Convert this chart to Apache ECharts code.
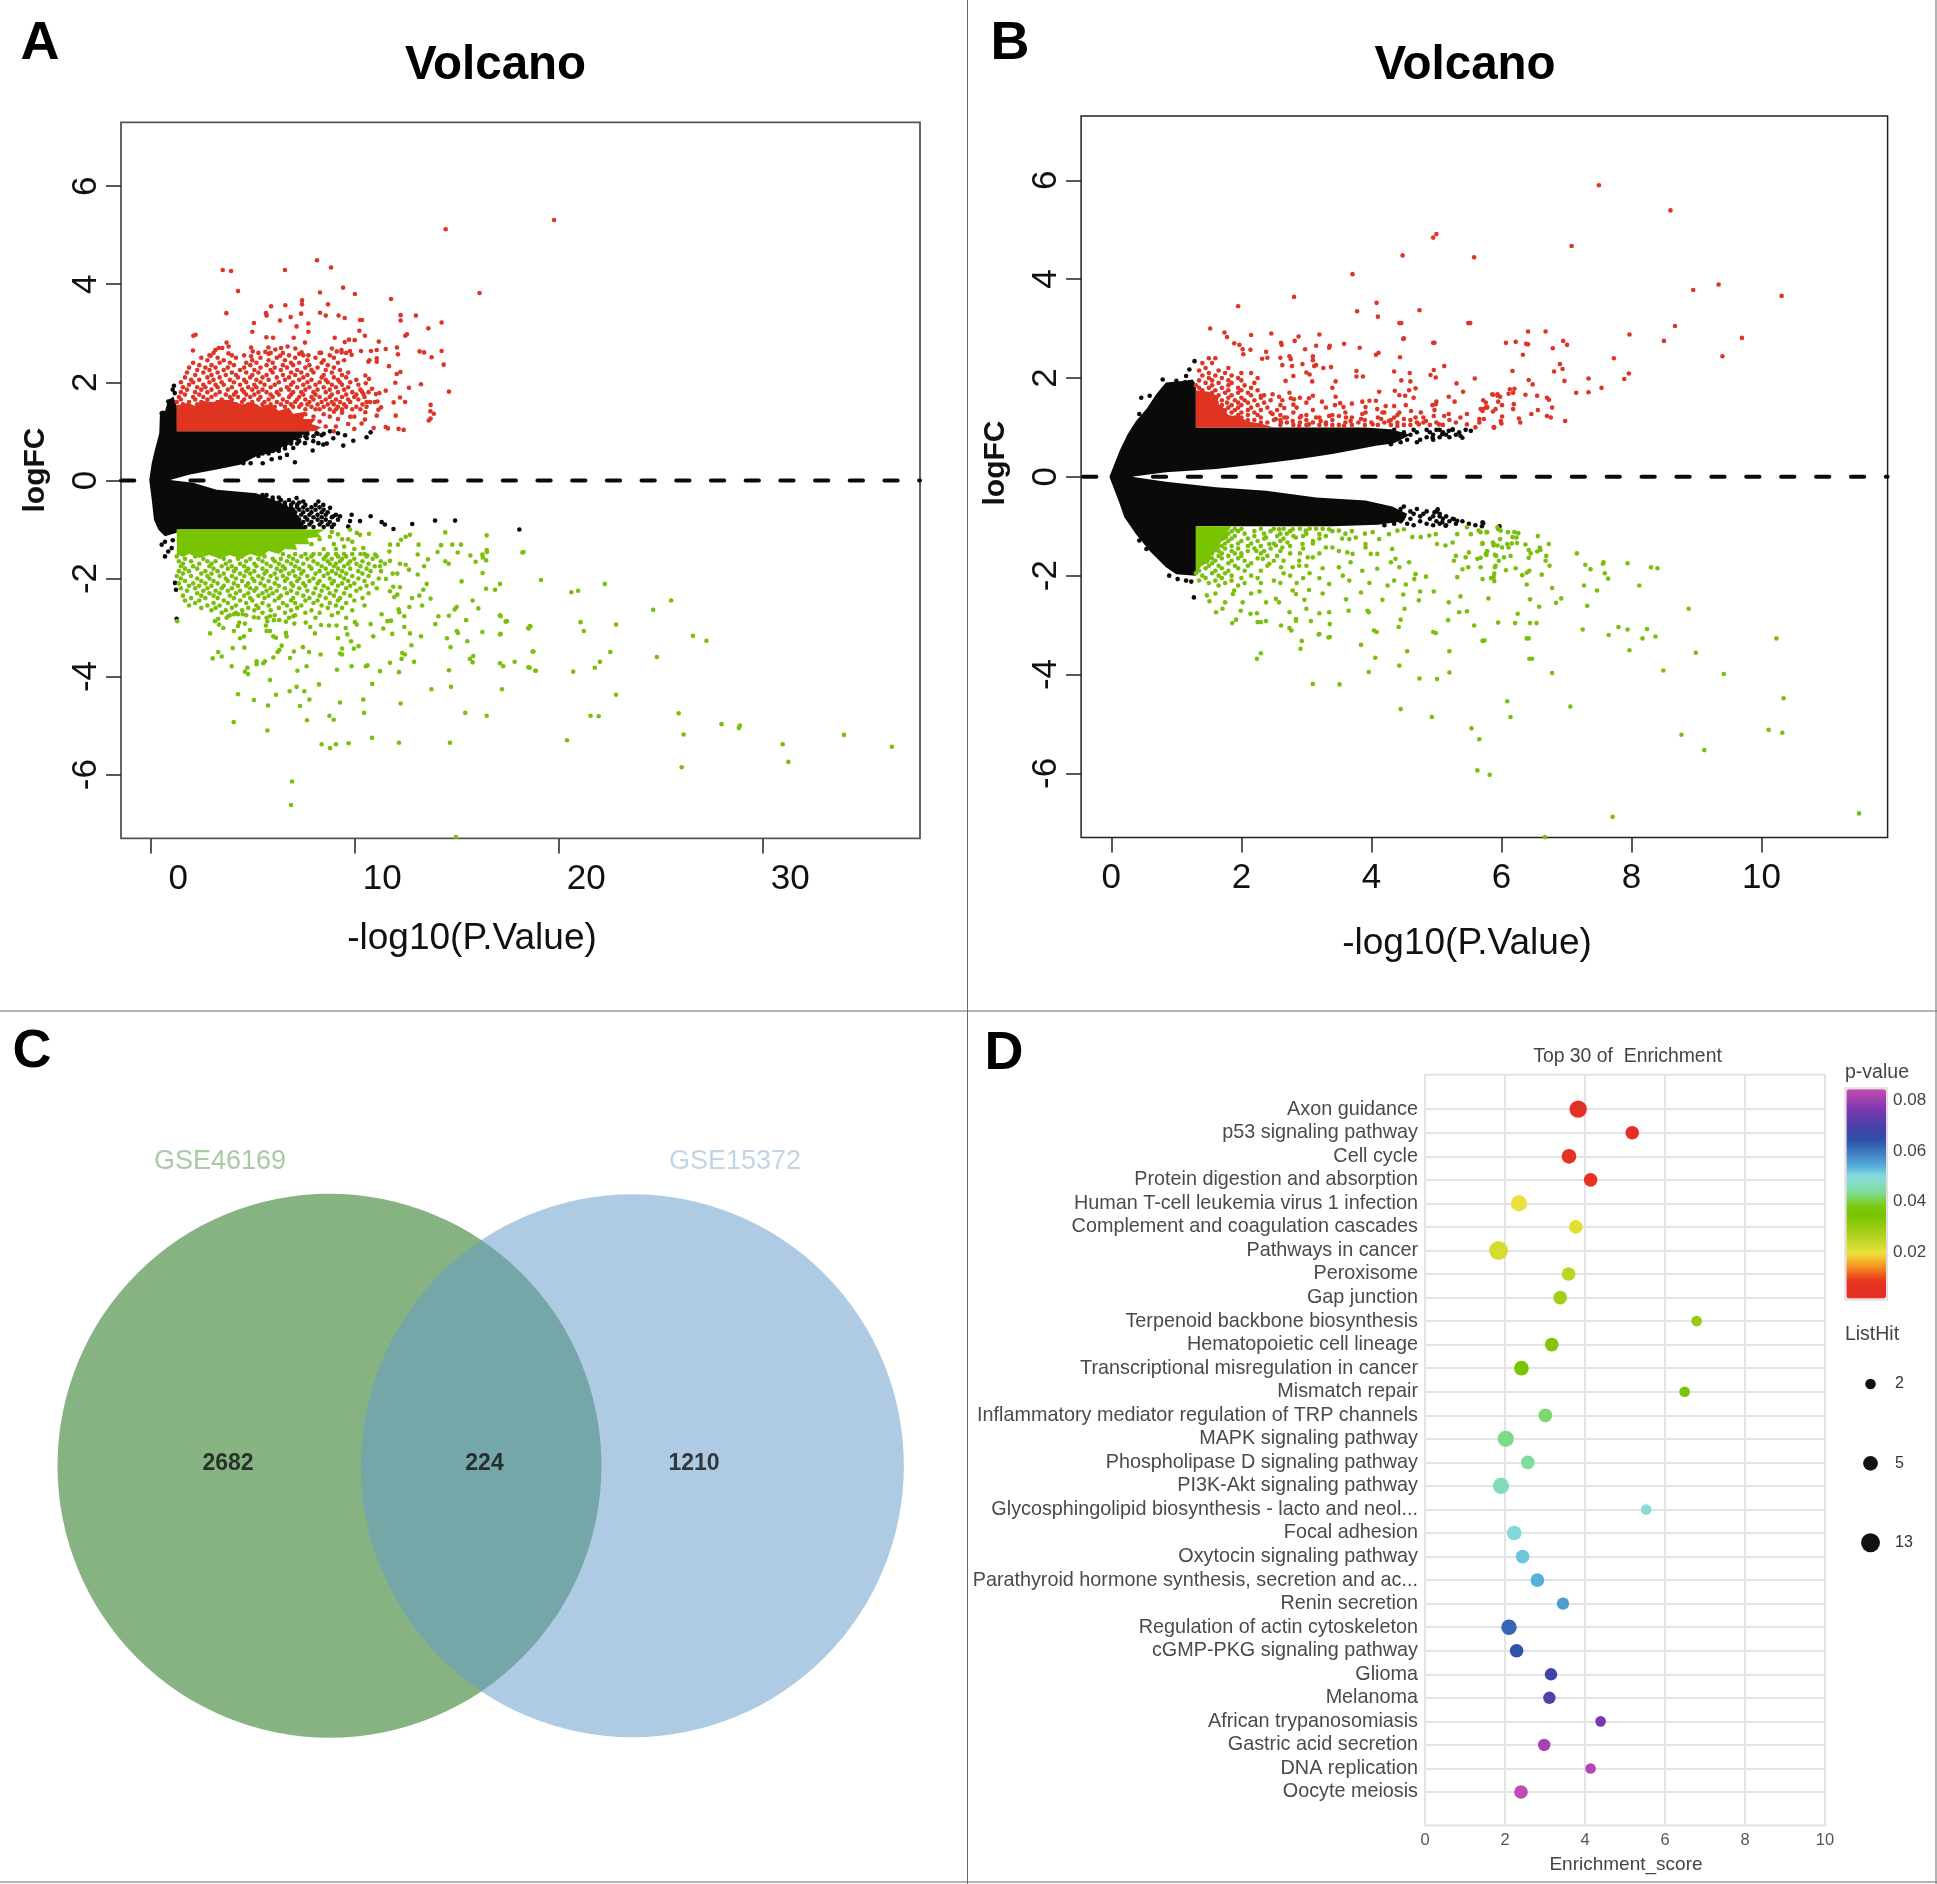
<!DOCTYPE html>
<html><head><meta charset="utf-8">
<script src="https://cdn.jsdelivr.net/npm/echarts@6/dist/echarts.min.js"></script>
<style>html,body{margin:0;padding:0;background:#fff}#c{width:1937px;height:1884px}</style>
</head><body><div id="c"></div>
<script>
// ---------- Panel A values (-log10 P, logFC) ----------
const aBlackHull=[[.97,.01],[1.95,.12],[3.25,.22],[4.4,.32],[5.2,.49],[6.2,.59],[6.77,.79],[7.67,.96],[7.83,1],[1.3,1],[1.3,1.51],[1.13,1.71],[.88,1.64],[.72,1.41],[.47,1.34],[.44,.96],[.23,.63],[.07,.35],[-.05,.01],[.07,-.39],[.18,-.8],[.39,-1],[.72,-1.14],[1.3,-1.07],[1.3,-1],[7.6,-1],[7.2,-.7],[6.68,-.5],[5.2,-.26],[3.25,-.19],[2.1,-.05]];
const aRedDense=[[1.3,1],[8,1],[8.4,1.08],[7.9,1.15],[8.1,1.25],[7.5,1.25],[7.6,1.4],[7,1.36],[6.8,1.48],[6.3,1.42],[5.9,1.55],[5.4,1.5],[5,1.6],[4.5,1.55],[4,1.62],[3.5,1.66],[3.1,1.6],[2.6,1.62],[2.2,1.52],[1.8,1.58],[1.3,1.52]];
const aGreenDense=[[1.3,-1],[8.6,-1],[8.2,-1.08],[8.4,-1.15],[7.7,-1.18],[7.8,-1.3],[7.1,-1.3],[7.2,-1.42],[6.6,-1.4],[6.3,-1.5],[5.8,-1.44],[5.4,-1.56],[4.9,-1.5],[4.4,-1.6],[3.9,-1.52],[3.4,-1.6],[2.9,-1.52],[2.4,-1.58],[1.9,-1.5],[1.6,-1.56],[1.3,-1.5]];
const aBlack=[[1.16,1.93],[1.1,1.85],[1.2,1.78],[.88,1.61],[.56,1.37],[.62,1.38],[1.03,1.5],[.95,1.58],[7.09,.37],[5.51,.35],[4.92,.35],[4.56,.35],[6.36,.46],[5.95,.43],[6.7,.52],[7.01,.66],[7.96,.61],[7.58,.76],[7.99,.8],[8.24,.76],[8.48,.73],[8.65,.75],[9.46,.71],[9.95,.81],[8.97,.86],[9.55,.92],[10.6,.88],[10.8,.98],[8.81,1],[8.15,.96],[7.67,.86],[7.34,.9],[7.01,.86],[6.7,.76],[6.93,.93],[8.4,.92],[9.2,.96],
[7.17,-.36],[7.5,-.43],[8.24,-.43],[8.48,-.5],[8.81,-.56],[8.97,-.73],[9.3,-.73],[9.87,-.7],[9.79,-.83],[10.28,-.83],[10.8,-.73],[11.34,-.85],[11.5,-.9],[11.92,-.99],[12.84,-.89],[13.96,-.82],[14.94,-.82],[9.7,-.94],[18.09,-1],
[.72,-1.55],[.56,-1.31],[1.05,-1.38],[.88,-1.45],[1.21,-2.09],[1.26,-2.23],[1.29,-2.82],[1.1,-1.22],[.72,-1.25]];
const aBlackRows=[[-.3,[5.5,5.7]],[-.35,[5.6,6,6.3]],[-.4,[6,6.4,6.8]],[-.45,[6.3,6.6,7,7.3]],[-.5,[6.6,6.9,7.2,7.6,8.1]],[-.55,[6.9,7.2,7.5,7.9,8.3]],[-.6,[7,7.3,7.7,8.1,8.5]],[-.65,[7.1,7.5,7.9,8.4,8.7]],[-.7,[7,7.4,7.8,8.2,8.6,9.1]],[-.75,[7.2,7.6,8,8.4,8.9]],[-.8,[6.9,7.3,7.7,8.2,8.6,9.2]],[-.85,[7.1,7.5,7.9,8.4,8.8]],[-.9,[7,7.4,7.8,8.3,8.7,9]],[-.95,[7.2,7.6,8,8.5,8.9]],
[.5,[5.3]],[.55,[5.5,5.8]],[.6,[6,6.3]],[.65,[6.3,6.6]],[.7,[6.6]],[.75,[6.9,7.2]],[.8,[6.9,7.3]],[.85,[7.2]],[.9,[7,7.6,8]],[.95,[7.3,7.7,8.2,8.5]]];
const aRed=[[19.79,5.31],[14.48,5.12],[16.14,3.82],[8.17,4.49],[8.86,4.34],[6.6,4.29],[3.55,4.29],[3.96,4.27],[4.3,3.86],[3.73,3.41],[9.45,3.93],[10.03,3.8],[11.8,3.7],[8.32,3.83],[8.71,3.59],[7.44,3.67],[7.44,3.59],[6.62,3.57],[5.92,3.55],[5.67,3.41],[5.7,3.36],[6.36,3.26],[6.88,3.33],[7.39,3.4],[8.32,3.42],[8.6,3.36],[9.23,3.36],[9.53,3.31],[10.28,3.27],[10.38,3.27],[12.27,3.37],[12.27,3.26],[13.02,3.36],[14.28,3.22],[13.63,3.1],[5.08,3.21],[5,3.03],[7.17,3.14],[7.75,3.2],[7.75,3.03],[10.25,3.05],[10.52,2.95],[12.58,2.98],[12.5,2.95],[2.11,2.95],[2.22,2.97],[5.69,2.92],[6.02,2.91],[7.03,2.91],[7.58,2.81],[9.04,2.91],[9.53,2.82],[9.74,2.87],[10.02,2.86],[11.2,2.83],[2.09,2.65],[3.74,2.81],[3.84,2.73],[3.19,2.66],[3.35,2.7],[3.53,2.7],[4.94,2.71],[5.79,2.71],[6.13,2.67],[6.41,2.7],[6.73,2.73],[3.83,2.59],[2.96,2.54],[5.02,2.63],[4.94,2.53],[5.64,2.62],[5.8,2.58],[6.36,2.54],[7.11,2.69],[7.3,2.58],[7.42,2.61],[7.75,2.55],[8.37,2.6],[8.9,2.69],[9.14,2.63],[9.37,2.66],[9.38,2.61],[9.79,2.64],[9.87,2.56],[10.33,2.64],[10.82,2.64],[11.1,2.66],[11.54,2.68],[12.09,2.71],[12.14,2.57],[13.2,2.63],[13.42,2.61],[13.79,2.51],[14.28,2.64],[14.38,2.36],[14.64,1.81],[13.27,1.96],[12.68,1.89],[12.01,1.99],[12.26,2.21],[12.08,2.17],[11.7,2.33],[11.1,2.42],[11.1,2.49],[10.69,2.42],[10.74,2.45],[11.54,1.83],[11.23,1.78],[11.06,1.76],[10.87,1.87],[10.54,2.14],[10.72,2.07],[10.56,1.98],[12.24,1.69],[12.49,1.6],[11.93,1.59],[11.13,1.61],[10.77,1.6],[11.31,1.49],[11.18,1.44],[12.03,1.32],[11.1,1.32],[13.74,1.54],[13.73,1.41],[13.9,1.36],[13.74,1.26],[13.65,1.22],[12.42,1.03],[12.17,1.05],[11.65,1.06],[11.54,1.09],[10.95,1.07],[10.52,1.24],[10.36,1.16],[10.54,1.39],[10.38,1.81],[10.45,1.76],[9.8,1.3],[9.2,1.25],[8.8,1.3],[8.3,1.2],[8.6,1.1],[9.1,1.1],[9.7,1.15],[10,1.05],[9,1],[8.1,1.05],[7.7,1.15],[8,1.3],[7.6,1.35],[9.4,1.38],[8.5,1.35],[9,1.4],[10,1.3]];
const aRedRows=[[1.45,[7.6,8.1,8.3,8.8,9.1,9.4,9.9,10.3]],[1.5,[1.4,2,2.7,3.1,3.9,4.4,5.2,5.7,6.1,6.6,7,7.3,7.9,8.5,9.2,9.6,10.1,10.6]],[1.55,[1.6,2.3,2.9,3.6,4.2,4.8,5.5,5.9,6.4,6.9,7.4,7.7,8.2,8.7,9,9.5,10.4]],[1.6,[1.3,1.9,2.5,3.3,3.8,4.5,5,5.6,6.2,6.7,7.1,7.8,8.4,8.9,9.3,9.8,10.6,11]],[1.65,[1.5,2.2,2.8,3.5,4,4.6,5.3,5.8,6.5,7.2,7.6,8,8.6,9.1,9.7,10.2]],[1.7,[1.4,2.1,2.6,3,3.9,4.3,4.9,5.4,6,6.8,7.3,7.9,8.3,8.8,9.4,10,10.5]],[1.75,[1.7,2.4,3.2,3.7,4.1,4.7,5.1,5.9,6.3,6.9,7.5,8.1,8.9,9.6,10.1]],[1.8,[1.5,2.2,2.8,3.4,4.2,4.6,5.3,5.7,6.2,7,7.4,8,8.6,9.2,9.9,10.7]],[1.85,[1.8,2.5,3,3.8,4.5,5,5.5,6.4,6.8,7.6,8.2,8.8,9.5,10.3]],[1.9,[1.6,2.3,2.7,3.3,4,4.8,5.2,5.9,6.7,7.2,7.8,8.5,9.1,9.7]],[1.95,[1.9,2.6,3.2,3.6,4.4,5.1,5.6,6.1,6.9,7.5,8.1,8.9,9.4,10.2]],[2,[1.5,2.1,2.9,3.5,4.1,4.7,5.4,6.3,7,7.7,8.3,8.7,9.3,9.8]],[2.05,[2,2.4,3.1,3.9,4.6,5.2,5.8,6.6,7.3,7.9,8.6,9.2,10.1]],[2.1,[1.7,2.8,3.4,4.3,4.9,5.5,6.2,6.8,7.5,8.4,9,9.6]],[2.15,[2.2,3,3.7,4.2,5,5.7,6.5,7.1,7.7,8.5,9.4]],[2.2,[1.8,2.6,3.3,4,4.7,5.3,6,6.9,7.4,8,8.9,9.7]],[2.25,[2.3,2.9,3.6,4.4,5.1,5.9,6.4,7.2,7.9,8.6,9.3]],[2.3,[1.9,2.7,3.2,3.8,4.6,5.4,6.1,6.7,7.6,8.2,9]],[2.35,[2.4,3,4.1,4.9,5.7,6.5,7,7.8,8.7]],[2.4,[2.1,3.4,3.9,4.7,5.2,6,6.9,7.3,8.4,9.2]],[2.45,[2.8,3.6,5,5.8,6.6,7.7,8.5,9.5]],[2.5,[2.5,3.3,4.2,5.4,6.2,7.1,8.1,9]],[2.55,[2.9,4,4.6,6.8,7.5,8.8]],[2.6,[3.1,5.3,5.9,6.5,8.3,9.6]]];
const aGreen=[[6.95,-6.14],[6.9,-6.62],[14.98,-7.27],[8.4,-5.38],[8.81,-5.46],[9.1,-5.38],[9.72,-5.36],[10.87,-5.25],[12.19,-5.35],[14.69,-5.35],[4.09,-4.93],[5.74,-5.1],[7.68,-4.89],[8.78,-4.8],[8.99,-4.88],[10.48,-4.74],[12.27,-4.55],[15.44,-4.74],[16.49,-4.8],[4.3,-4.36],[5.08,-4.48],[5.77,-4.59],[6.16,-4.37],[6.83,-4.3],[7.17,-4.21],[7.55,-4.3],[7.34,-4.6],[7.8,-4.47],[8.27,-4.16],[9.3,-4.53],[10.44,-4.47],[10.88,-4.15],[13.78,-4.26],[14.74,-4.21],[17.24,-4.26],[5.87,-4.07],[7.21,-3.88],[7.66,-3.79],[9.15,-3.86],[9.87,-3.79],[10.57,-3.79],[10.65,-3.77],[11.26,-3.89],[11.75,-3.72],[12.19,-3.91],[12.93,-3.7],[14.64,-3.87],[17.14,-3.73],[17.3,-3.79],[17.86,-3.7],[18.53,-3.81],[18.87,-3.88],[18.74,-3.49],[3.06,-3.63],[3.5,-3.59],[3.33,-3.5],[3.99,-3.79],[4.76,-3.82],[4.64,-3.9],[4.79,-3.95],[5.21,-3.69],[5.21,-3.75],[5.54,-3.73],[5.62,-3.69],[6.03,-3.61],[6.24,-3.5],[6.33,-3.46],[6.44,-3.37],[6.85,-3.62],[7.04,-3.49],[7.48,-3.4],[7.78,-3.5],[8.35,-3.55],[9.3,-3.53],[9.4,-3.55],[9.4,-3.43],[9.98,-3.43],[10.21,-3.38],[12.35,-3.52],[12.48,-3.55],[12.32,-3.64],[12.8,-3.36],[14.72,-3.4],[15.54,-3.28],[15.67,-3.64],[15.83,-3.58],[15.8,-3.71],[2.93,-3.12],[4.04,-3.42],[4.61,-3.41],[4.4,-3.22],[4.59,-3.18],[4.1,-3.07],[4.3,-2.97],[4.36,-2.9],[4.64,-2.92],[4.89,-3.05],[3.58,-3.01],[3.37,-2.94],[3.17,-2.87],[3.33,-2.82],[3.74,-2.8],[3.82,-2.77],[4.1,-2.73],[4.3,-2.73],[4.53,-2.73],[5.08,-2.79],[5.7,-3.07],[5.87,-3.07],[5.67,-2.96],[5.74,-2.87],[5.87,-2.77],[6.03,-3.18],[6.16,-3.21],[6.65,-3.11],[6.68,-3.18],[6.06,-2.85],[6.32,-2.85],[6.65,-2.88],[7.06,-2.92],[7.01,-2.77],[7.62,-2.9],[7.84,-2.99],[8.07,-3.12],[8.37,-2.95],[8.76,-2.96],[9.13,-2.96],[9.58,-3.01],[9.66,-3.14],[9.2,-3.22],[9.84,-3.28],[10.03,-2.89],[10.12,-2.94],[10.8,-2.93],[10.93,-3.18],[11.42,-3.02],[11.86,-3.13],[12.45,-2.99],[12.73,-3.12],[13.27,-3.18],[13.97,-2.93],[14.12,-2.77],[14.64,-2.76],[14.54,-3.22],[15.02,-3.07],[15.08,-3.11],[15.48,-2.85],[16.28,-3.09],[17.14,-2.75],[17.42,-2.88],[17.14,-3.14],[18.53,-3.01],[18.61,-2.97],[16.08,-2.61],[15.8,-2.45],[14.92,-2.63],[15.02,-2.58],[13.74,-2.41],[13.32,-2.55],[12.7,-2.58],[12.83,-2.4],[12.45,-2.77],[12.17,-2.63],[12.21,-2.69],[11.8,-2.86],[11.62,-2.87],[11.34,-2.73],[14.46,-1.06],[16.49,-1.12],[18.24,-1.47],[19.15,-2.03],[17.14,-2.11],[16.9,-2.23],[16.46,-2.21],[15.26,-2.06],[16.29,-1.89],[16.46,-1.63],[16.28,-1.51],[16.49,-1.42],[15.95,-1.66],[15.69,-1.53],[15.23,-1.31],[14.8,-1.31],[14.25,-1.32],[15.07,-1.47],[14.08,-1.46],[14.46,-1.65],[14.63,-1.7],[13.11,-1.51],[13.15,-1.31],[13.61,-1.61],[13.42,-1.75],[13.11,-1.92],[13.55,-2.11],[13.38,-2.23],[13.19,-2.35],[12.73,-1.11],[12.52,-1.15],[12.29,-1.21],[12.14,-1.31],[11.75,-1.31],[11.72,-1.45],[12.24,-1.7],[12.52,-1.72],[12.68,-1.82],[12.11,-1.9],[11.88,-1.9],[11.55,-2.01],[12.24,-2.18],[11.91,-2.17],[11.75,-2.26],[12.11,-2.33],[11.96,-2.38],[11.75,-1.64],[11.5,-1.7],[11.26,-1.75],[11.31,-1.85],[11.02,-1.51],[10.64,-1.53],[10.44,-1.38],[10.72,-1.09],[10.28,-1.11],[10.12,-1.07],[9.79,-1],
[20.64,-2.28],[20.97,-2.25],[22.28,-2.11],[24.65,-2.64],[25.53,-2.45],[26.6,-3.17],[27.26,-3.27],[22.83,-2.94],[21.09,-2.89],[21.25,-3.07],[18.63,-2.98],[18.54,-3.02],[24.83,-3.6],[22.55,-3.5],[22.04,-3.7],[21.79,-3.82],[20.73,-3.9],[18.78,-3.49],[18.9,-3.88],[18.6,-3.82],[22.83,-4.37],[21.58,-4.8],[21.98,-4.81],[20.43,-5.3],[25.9,-4.75],[26.14,-5.18],[26.05,-5.85],[28,-4.97],[28.85,-5.05],[28.9,-5],[31,-5.38],[31.28,-5.74],[34,-5.19],[36.35,-5.43],[18.3,-1.46],[17.48,-2.87],[17.17,-3.13],[17.17,-2.77],[16.5,-1.46],[16.3,-1.57],[1.32,-2.87],
[10.5,-1.5],[10,-1.4],[9.5,-1.35],[9,-1.3],[8.8,-1.15],[9.2,-1.1],[9.7,-1.2],[8.5,-1.4],[7.9,-1.3],[8.3,-1.2],[8.9,-1.05],[9.4,-1.2],[9.1,-1.4],[9.9,-1.25]];
const aGreenRows=[[-1.5,[6.5,7.1,7.6,8,8.3,8.7,9.1,9.5,9.9,10.3]],[-1.55,[1.3,2.2,3.4,4.5,5.6,6.8,7.4,7.9,8.6,9.2,9.6,10.6,11.1]],[-1.6,[1.7,2.6,3.6,4.3,4.9,5.3,6,6.4,7,7.7,8.5,8.9,9.4,10,10.9]],[-1.65,[1.4,2,2.8,3.2,3.9,4.7,5.5,6.1,6.7,7.2,8,8.7,9.3,9.8,10.4,11.3]],[-1.7,[1.6,2.4,3,3.7,4.4,5.1,5.7,6.3,6.9,7.5,8.2,8.8,9.1,9.7,10.1,10.7]],[-1.75,[1.5,2.1,2.9,3.5,4,4.6,5.2,5.9,6.5,7.1,7.8,8.4,9,9.5,10.3,11]],[-1.8,[1.7,2.3,3.1,3.8,4.2,4.8,5.5,6.2,6.6,7.3,7.9,8.6,9.2,9.8,10.6]],[-1.85,[1.4,1.9,2.7,3.3,4.1,4.7,5.1,5.7,6.4,7,7.5,8.3,8.9,9.4,10.2,10.8]],[-1.9,[1.6,2.5,3,3.6,4.4,4.9,5.6,6.1,6.8,7.4,8.1,8.7,9.1,9.6,10.4]],[-1.95,[1.3,2,2.8,3.4,4,4.6,5.3,5.9,6.5,7.1,7.7,8.5,9.3,9.9,10.7]],[-2,[1.5,2.3,2.9,3.7,4.2,5,5.5,6.2,6.7,7.3,8,8.8,9.5,10.2,11.2]],[-2.05,[1.7,2.5,3.1,3.8,4.5,5.1,5.8,6.6,7.2,7.8,8.3,9,9.7,10.5]],[-2.1,[1.4,2.1,2.7,3.3,4.1,4.8,5.4,6.1,6.9,7.5,8.2,8.9,9.4,10,10.9]],[-2.15,[1.9,2.4,3,3.6,4.3,4.7,5.6,6.3,7,7.6,8.5,9.2,9.8,10.6]],[-2.2,[1.5,2.2,2.8,3.5,4,4.9,5.2,5.9,6.6,7.3,8.1,8.7,9.6,10.3,11.1]],[-2.25,[1.8,2.6,3.2,3.8,4.4,5.1,5.7,6.2,6.9,7.7,8.4,9.1,10.1]],[-2.3,[2.3,2.9,3.4,4.2,4.8,5.5,6,6.7,7.2,8,8.8,9.5,10.7]],[-2.35,[1.6,2.5,3.1,3.9,4.6,5.3,5.8,6.4,7.5,8.3,9,9.8]],[-2.4,[2,2.7,3.3,4.1,4.9,5.6,6.3,7,7.8,8.6,9.3,10.4]],[-2.45,[1.7,2.4,3.6,4.4,5,6.1,6.9,7.6,8.2,9.2,10]],[-2.5,[2.2,3.1,3.8,4.7,5.5,6.5,7.1,8,8.8,9.6]],[-2.55,[1.9,2.8,3.4,4.2,5.2,5.8,6.7,7.4,8.4,9.1,10.5]],[-2.6,[2.5,3.2,4,4.8,5.3,6.3,7.2,8.7,9.4]],[-2.65,[3,3.7,4.5,5.1,5.9,6.9,7.9,9.9]],[-2.7,[3.5,4.2,5.5,6.6,7.6,8.3,9.2]],[-2.75,[3.9,4.7,6.1,7.1,8.9]],[-2.8,[5.3,5.7,6.8,8.1,9.6]]];
// ---------- Panel B values ----------
const bBlackHull=[[.31,0],[.84,.09],[1.61,.16],[2.28,.26],[2.89,.36],[3.4,.46],[3.81,.56],[4.07,.63],[4.35,.68],[4.6,.85],[4.3,.96],[3.9,1],[1.3,1],[1.3,1.87],[1.25,1.97],[1.1,1.94],[.84,1.91],[.69,1.67],[.54,1.37],[.38,1.13],[.25,.86],[.13,.53],[-.03,0],[.13,-.55],[.2,-.82],[.38,-1.16],[.59,-1.5],[.84,-1.83],[1,-1.97],[1.3,-2],[1.3,-1],[3.4,-1],[4.1,-.97],[4.5,-.9],[4.55,-.75],[4.32,-.6],[3.91,-.48],[3.15,-.42],[2.38,-.28],[1.61,-.21],[.84,-.1]];
const bRedDense=[[1.3,1],[2.5,1],[2.3,1.08],[2.1,1.12],[2,1.2],[1.8,1.25],[1.72,1.4],[1.62,1.5],[1.66,1.62],[1.5,1.72],[1.3,1.75]];
const bGreenDense=[[1.3,-1],[1.85,-1],[1.78,-1.12],[1.8,-1.25],[1.68,-1.32],[1.66,-1.5],[1.55,-1.55],[1.5,-1.75],[1.4,-1.78],[1.3,-1.95]];
const bBlack=[[4.94,.79],[5.09,.86],[5.19,.93],[5.25,.96],[5.4,.79],[5.37,.83],[5.53,.93],[5.05,.95],[1.28,2.34],[1.2,2.17],[1.15,2.04],[1,1.94],[.79,1.97],[.59,1.64],[.46,1.6],[.43,1.27],[1.13,1.91],[5.09,-.92],[5.27,-.86],[5.32,-.89],[5.71,-.92],[5.14,-.99],[4.97,-.72],[5.05,-.8],[5.02,-.66],[1.27,-2.44],[.89,-2],[1.02,-2.07],[1.15,-2.1],[1.23,-2.12],[.54,-1.46],[.43,-1.29],[5.72,-.94],[5.7,-1],[5.97,-1]];
const bBlackRows=[[.66,[4.3]],[.7,[4.45,4.7]],[.75,[4.55,4.75,4.95]],[.8,[4.4,4.85,5.05,5.2]],[.85,[4.6,4.95,5.15,5.3]],[.9,[4.5,4.7,4.9,5.1,5.35]],[.95,[4.35,4.65,4.85,5,5.25,5.45]],
[-.6,[4.5]],[-.65,[4.45,4.7]],[-.7,[4.6,4.85,5]],[-.75,[4.65,4.8,5.05]],[-.8,[4.5,4.75,4.95,5.15]],[-.85,[4.6,4.9,5.1,5.25]],[-.9,[4.45,4.75,5,5.2,5.4]],[-.95,[4.35,4.55,4.85,5.05,5.3,5.5]],[-.98,[4.2,4.65,4.95,5.15,5.6]]];
const bRed=[[2.81,3.64],[1.95,3.45],[4.08,3.52],[3.78,3.35],[4.1,3.24],[4.74,3.37],[4.43,3.11],[5.49,3.11],[4.49,2.79],[4.95,2.71],[1.52,3],[1.74,2.92],[1.78,2.83],[1.89,2.7],[1.97,2.67],[2.02,2.58],[2.03,2.48],[2.14,2.57],[2.15,2.87],[2.46,2.9],[2.88,2.84],[2.82,2.75],[2.61,2.71],[2.62,2.67],[3.2,2.88],[2.98,2.58],[3.15,2.65],[3.36,2.65],[3.35,2.61],[3.58,2.69],[3.82,2.61],[4.07,2.47],[4.11,2.51],[4.44,2.42],[2.38,2.53],[2.4,2.41],[2.32,2.39],[2.6,2.41],[2.74,2.44],[2.76,2.38],[3.1,2.44],[3.1,2.36],[2.63,2.26],[2.78,2.24],[2.94,2.28],[3.15,2.26],[3.12,2.24],[3.26,2.2],[3.38,2.22],[3,2.11],[3.05,2.07],[2.8,2.04],[2.68,1.94],[3.09,1.93],[3.45,1.93],[3.4,1.8],[3.77,2.14],[3.77,2.03],[3.87,2.03],[4.35,2.13],[4.59,2.1],[4.46,1.95],[4.6,1.93],[4.68,1.79],[5.12,2.24],[4.96,2.16],[4.91,2.06],[4.99,2.01],[5.59,1.99],[5.31,1.89],[5.41,1.72],[5.19,1.62],[5.28,1.52],[5,1.52],[4.94,1.45],[4.97,1.35],[4.36,1.74],[4.43,1.65],[4.52,1.64],[4.58,1.75],[4.65,1.6],[4.12,1.72],[3.45,1.62],[3.24,1.52],[3.1,1.64],[3.04,1.59],[2.74,1.7],[2.76,1.59],[2.81,1.57],[2.58,1.62],[2.63,1.55],[2.66,1.39],[2.8,1.46],[2.48,1.67],[2.3,1.64],[3.44,1.45],[3.52,1.49],[3.57,1.41],[3.7,1.48],[3.86,1.52],[3.97,1.54],[4.07,1.54],[3.91,1.41],[4.22,1.43],[4.35,1.43],[4.53,1.45],
[2.48,1.27],[2.53,1.17],[2.61,1.1],[2.66,1.2],[2.79,1.13],[2.92,1.23],[2.89,1.03],[3.04,1.06],[3.15,1.2],[3.22,1.13],[3.35,1.23],[3.3,1.06],[3.5,1.23],[3.61,1.2],[3.58,1.03],[3.68,1.13],[3.86,1.27],[3.91,1.3],[3.84,1.17],[4.02,1.06],[4.09,1.37],[4.17,1.3],[4.15,1.17],[4.27,1.13],[4.35,1.2],[4.43,1.3],[4.5,1.17],[4.4,1.03],[4.61,1.33],[4.68,1.2],[4.76,1.3],[4.84,1.13],[4.73,1.06],[4.96,1.23],[5.04,1.06],[5.12,1.23],[5.19,1.27],[4.99,1.47],[5.37,1.2],[5.47,1.27],[5.47,1.06],[5.6,1],[5.88,1],[5.91,1.37],[5.68,1.37],[5.76,1.5],[5.71,1.33],[5.86,1.67],[5.94,1.64],[5.78,1.4],
[8.95,3.78],[9.34,3.89],[10.31,3.66],[8.67,3.05],[7.97,2.88],[8.5,2.75],[9.7,2.81],[9.4,2.44],[7.73,2.4],[7.89,1.98],[7.96,2.09],[7.34,1.99],[7.54,1.8],[7.34,1.71],[7.15,1.7],[6.97,1.94],[6.94,2.18],[6.9,2.28],[6.81,2.13],[6.17,2.14],[6.33,2.47],[6.79,2.6],[7.01,2.67],[6.95,2.75],[6.68,2.94],[6.41,2.94],[6.38,2.69],[6.41,2.68],[6.22,2.73],[6.07,2.71],[6.42,1.96],[6.48,1.87],[6.13,1.77],[6.2,1.78],[6.11,1.68],[6.18,1.7],[5.87,1.66],[5.94,1.67],[5.98,1.62],[6.37,1.66],[6.55,1.64],[6.7,1.6],[6.73,1.56],[5.72,1.55],[5.95,1.52],[6.01,1.45],[6.19,1.47],[6.18,1.37],[6.78,1.4],[6.56,1.35],[6.46,1.27],[6.7,1.23],[6.76,1.2],[6.98,1.13],[6.27,1.18],[6.29,1.1],[6.01,1.22],[5.99,1.13],[6,1.08],[5.89,1],[5.87,1.32],[5.76,1.4],[5.71,1.37],[5.78,1.41],[5.73,1.17],[5.66,1.17],[5.66,1.1],
[7.5,5.9],[8.6,5.39],[5,4.91],[4.95,4.84],[7.08,4.67],[5.58,4.44],[4.48,4.48],[3.71,4.1],[5.52,3.11],[4.46,3.11],[4.5,2.8],[4.97,2.71]];
const bRedRows=[[1.05,[2.6,2.8,3,3.2,3.4,3.5,3.7,3.9,4.1,4.3,4.5,4.6,4.9,5.1]],[1.1,[2.3,2.4,2.7,2.9,3.1,3.3,3.6,3.8,4,4.2,4.4,4.7,4.8,5,5.3]],[1.15,[2.1,2.2,2.5,2.6,3,3.4,3.9,4.3,4.6,5.2]],[1.2,[1.8,1.9,2,2.3,2.7,2.9,3.2,3.7,4.1,4.8]],[1.25,[1.75,1.95,2.1,2.25,2.6,3,3.4,4.4]],[1.3,[1.7,1.85,2,2.2,2.45,2.8,3.6,4.2]],[1.35,[1.75,1.9,2.1,2.3,2.55,3.1]],[1.4,[1.65,1.8,1.95,2.15,2.4,2.85,3.3]],[1.45,[1.7,1.85,2,2.25,2.6]],[1.5,[1.62,1.78,1.95,2.1,2.35,3]],[1.55,[1.7,1.9,2.05,2.2,2.45]],[1.6,[1.6,1.8,2,2.3,2.9]],[1.65,[1.65,1.85,2.15,2.35]],[1.7,[1.55,1.75,1.95,2.1]],[1.75,[1.4,1.6,1.8,2,2.25]],[1.8,[1.35,1.5,1.7,1.95,2.15]],[1.85,[1.3,1.55,1.8,2.05]],[1.9,[1.45,1.65,1.85,2.2]],[1.95,[1.35,1.55,1.8,2]],[2,[1.5,1.7,1.95,2.25]],[2.05,[1.4,1.6,1.85]],[2.1,[1.5,1.75,2,2.15]],[2.15,[1.35,1.65]],[2.2,[1.45,1.8]],[2.3,[1.4,1.55]],[2.4,[1.5,1.6]]];
const bGreen=[[6.56,-1.2],[6.73,-1.36],[7.16,-1.55],[7.29,-1.78],[7.37,-1.87],[7.57,-1.73],[7.56,-1.76],[7.94,-1.75],[8.3,-1.83],[8.4,-1.85],[7.59,-1.95],[7.64,-2.06],[7.27,-2.2],[7.47,-2.3],[8.12,-2.2],[7.32,-2.61],[8.88,-2.67],[7.25,-3.09],[7.65,-3.2],[7.8,-3.04],[7.94,-3.09],[8.24,-3.08],[8.37,-3.23],[8.17,-3.27],[10.23,-3.27],[7.97,-3.51],[8.99,-3.56],[8.49,-3.92],[9.42,-3.99],[6.43,-3.68],[6.78,-3.97],[6.39,-3.27],[5.71,-3.32],[5.95,-2.95],[6.21,-2.96],[6.44,-2.96],[6.54,-2.96],[6.25,-2.77],[5.8,-2.46],[6.44,-2.48],[6.58,-2.63],[6.84,-2.55],[6.92,-2.46],[6.78,-2.25],[6.39,-2.18],[6.62,-1.98],[6.32,-1.99],[6.39,-1.94],[6.43,-1.9],[6.22,-1.85],[6.07,-1.89],[5.9,-1.83],[5.89,-1.96],[5.84,-2.05],[5.89,-2.11],[5.68,-1.83],[5.96,-1.7],[6.04,-1.63],[6.14,-1.6],[5.9,-1.58],[5.78,-1.51],[5.77,-1.58],[5.68,-1.64],[5.71,-1.34],[5.87,-1.33],[5.88,-1.39],[5.94,-1.39],[6.01,-1.43],[6.09,-1.36],[6.11,-1.43],[6.16,-1.35],[6.24,-1.34],[6.37,-1.37],[6.42,-1.48],[6.45,-1.55],[6.42,-1.64],[6.55,-1.51],[6.59,-1.43],[6.6,-1.48],[6.69,-1.6],[6.68,-1.7],[6.74,-1.8],[5.98,-1.26],[6.17,-1.22],[6.23,-1.23],[5.95,-1.06],[5.99,-1.09],[5.68,-1.12],[5.77,-1.12],[6.1,-1.12],[6.2,-1.12],[6.26,-1.14],
[11.5,-6.81],[7.71,-6.88],[6.67,-7.29],[9.12,-5.53],[8.77,-5.22],[10.11,-5.12],[10.32,-5.18],[10.34,-4.48],[7.06,-4.65],[6.14,-4.86],[6.09,-4.54],[5.82,-6.03],[5.63,-5.94],[5.66,-5.31],[5.54,-5.09],[4.93,-4.86],[4.45,-4.7],[5.01,-4.09],[4.74,-4.08],[5.2,-3.96],[4.43,-3.82],[4.55,-3.53],[3.96,-3.95],[4.06,-3.66],[3.51,-4.2],[3.1,-4.19],[2.24,-3.68],[2.3,-3.57],[2.91,-3.48],[2.93,-3.32],[3.36,-3.24],[3.2,-3.18],[3.84,-3.4],[4.08,-3.14],[4.95,-3.14],[4.99,-3.16],[5.2,-3.53],[5.74,-3.31],[6.42,-3.27],[6.47,-3.68],
[3.19,-3.19],[3.34,-3.25],[4.04,-3.11],[4.42,-3.04],[4.45,-2.89],[5.18,-2.9],[5.58,-3.01],[5.35,-2.74],[5.47,-2.72],[5.19,-2.54],[4.51,-2.67],[4.73,-2.5],[4.75,-2.32],[4.96,-2.32],[5.37,-2.42],[4.49,-2.38],[4.17,-2.49],[3.61,-2.48],[3.65,-2.71],[3.94,-2.71],[3.96,-2.74],[3.36,-2.98],[3.35,-2.74],[3.2,-2.76],[3.07,-2.92],[3,-2.67],[2.74,-2.74],[2.84,-2.88],[2.84,-2.91],[2.61,-3.01],[2.74,-3.06],[2.77,-3.11],[2.38,-2.92],[2.25,-2.94],[2.3,-2.94],[2.14,-2.77],[2.24,-2.76],[2.02,-2.54],[1.99,-2.71],[1.92,-2.89],[1.86,-2.96],[1.61,-2.74],[1.71,-2.67],[1.75,-2.54],[1.51,-2.52],[1.47,-2.4],[1.6,-2.36],[1.87,-2.37],[1.89,-2.3],[2.15,-2.36],[2.28,-2.32],[2.38,-2.54],[2.53,-2.47],[2.58,-2.54],[2.97,-2.49],[2.84,-2.37],[2.79,-2.3],[3.04,-2.29],[3.25,-2.36],[3.35,-2.17],[3.56,-2],[3.66,-2.1],[3.84,-2.34],[3.97,-2.15],[4.25,-2.2],[4.35,-2.1],[4.53,-2.18],[4.68,-1.97],[4.66,-2.07],[4.84,-2.02],[5.32,-2.03],[5.4,-1.87],[5.49,-1.83],[5.71,-2.07],[5.88,-2.03],[5.27,-1.7],[5.3,-1.6],[5.45,-1.63],[5.5,-1.53],[5.63,-1.66],[5.76,-1.56],[5.78,-1.5],[5.91,-1.8],[5.92,-1.6],
[3.2,-1.16],[3.35,-1.06],[3.5,-1.09],[3.66,-1.26],[3.76,-1.23],[3.91,-1.36],[4.02,-1.12],[4.12,-1.26],[4.27,-1.16],[4.4,-1.09],[4.5,-1.06],[4.63,-1.22],[4.76,-1.22],[4.89,-1.19],[4.99,-1.16],[5.01,-1.36],[5.14,-1.39],[5.25,-1.33],[5.32,-1.16],[5.47,-1.02],[5.53,-1.16],[5.65,-1.09],[5.78,-1.12],[5.71,-1.36],[5.88,-1.36],[5.94,-1.02],
[3.4,-1.43],[3.5,-1.5],[3.63,-1.53],[3.71,-1.56],[3.91,-1.43],[3.99,-1.56],[4.09,-1.56],[4.32,-1.46],[4.37,-1.66],[4.58,-1.73],[4.3,-1.73],[4.43,-1.83],[4.09,-1.86],[3.86,-1.9],[3.68,-1.73],[3.5,-1.83],[3.3,-1.43],[3.1,-1.63],[3.02,-1.63],[2.89,-1.7],[2.79,-1.83],[2.89,-1.8],[2.61,-1.83],[2.43,-1.76],[2.33,-1.66],[2.23,-1.5],[2.43,-1.36],[2.63,-1.43],[2.84,-1.23],[2.94,-1.36],[2.38,-1.23],[2.58,-1.06],[2.79,-1.06],[2.99,-1.09],[2.53,-1.39],[2.71,-1.33],[2.65,-1.95],[2.75,-2],[2.85,-2.15],[2.95,-2.05],[3.05,-1.95],[3.2,-2.05],[3.25,-1.85],[3,-1.8],[2.5,-2.1],[2.6,-2.15],[2.95,-1.2],[3.1,-1.3],[3.05,-1.05],[3.25,-1.05],[3.2,-1.25],[2.55,-1.6],[2.65,-1.7],[2.75,-1.55],[3.2,-1.55],[2.7,-1.15]];
const bGreenRows=[[-1.05,[1.9,2,2.3,2.5,2.65,2.9,3.15]],[-1.1,[1.85,1.95,2.2,2.45,2.75,3.4,3.7]],[-1.15,[1.8,2.05,2.35,2.6,3,3.6,3.9]],[-1.2,[1.75,1.9,2.2,2.55,2.8,3.3]],[-1.25,[1.7,1.85,2.1,2.35,2.65,3.55]],[-1.3,[1.65,1.8,2,2.25,2.6]],[-1.35,[1.6,1.75,1.95,2.15,2.5,3.1]],[-1.4,[1.7,1.85,2.1,2.3,2.75]],[-1.45,[1.6,1.75,1.95,2.2,2.45,2.95]],[-1.5,[1.65,1.85,2.1,2.35,2.6]],[-1.55,[1.55,1.7,1.9,2,2.3,2.9]],[-1.6,[1.5,1.65,1.8,2,2.4]],[-1.65,[1.55,1.7,1.95,2.25]],[-1.7,[1.45,1.6,1.85,2.05,2.5]],[-1.75,[1.4,1.55,1.8,2.15]],[-1.8,[1.5,1.65,1.9,2.1,2.4]],[-1.85,[1.45,1.7,1.95]],[-1.9,[1.35,1.6,1.8,2.05,2.3]],[-1.95,[1.3,1.55,1.75]],[-2,[1.4,1.65,1.85,2.15]],[-2.05,[1.45,1.7,2,2.25]],[-2.1,[1.35,1.6,1.85]],[-2.15,[1.5,1.75,2.05,2.3]],[-2.2,[1.65,1.95]]];
// ---------- Panel C values ----------
const vennSets=['GSE46169','GSE15372'];
const vennCounts=['2682','224','1210'];
// ---------- Panel D values ----------
const pathways=['Axon guidance','p53 signaling pathway','Cell cycle','Protein digestion and absorption','Human T-cell leukemia virus 1 infection','Complement and coagulation cascades','Pathways in cancer','Peroxisome','Gap junction','Terpenoid backbone biosynthesis','Hematopoietic cell lineage','Transcriptional misregulation in cancer','Mismatch repair','Inflammatory mediator regulation of TRP channels','MAPK signaling pathway','Phospholipase D signaling pathway','PI3K-Akt signaling pathway','Glycosphingolipid biosynthesis - lacto and neol...','Focal adhesion','Oxytocin signaling pathway','Parathyroid hormone synthesis, secretion and ac...','Renin secretion','Regulation of actin cytoskeleton','cGMP-PKG signaling pathway','Glioma','Melanoma','African trypanosomiasis','Gastric acid secretion','DNA replication','Oocyte meiosis'];
const enrichment=[3.83,5.18,3.6,4.14,2.35,3.77,1.84,3.59,3.38,6.79,3.17,2.41,6.49,3.01,2.02,2.57,1.9,5.53,2.23,2.44,2.81,3.45,2.1,2.29,3.15,3.11,4.39,2.98,4.14,2.4];
const pValues=[.0025,.003,.006,.0075,.0195,.0205,.0215,.025,.028,.03,.033,.034,.035,.042,.043,.044,.046,.0495,.05,.052,.054,.056,.062,.0645,.068,.072,.076,.081,.083,.0845];
const listHits=[9,4,5,4,7,4,13,4,4,2,4,5,2,4,7,4,7,2,5,4,4,3,6,4,3,3,2,3,2,4];
const hitLegend=['2','5','13'];
const pTicks=[.02,.04,.06,.08];
const pStops=[[.0011,'#e32f26'],[.008,'#e5331f'],[.0135,'#f58a1f'],[.019,'#efe23c'],[.023,'#c9d92c'],[.034,'#78c400'],[.038,'#7cc810'],[.044,'#7edda0'],[.05,'#8adbe0'],[.054,'#55aedc'],[.0645,'#2e50a8'],[.07,'#4840a8'],[.077,'#7e38b0'],[.0848,'#c44db0']];

const FF='"Liberation Sans",Arial,sans-serif';
const expand=rows=>rows.flatMap(([y,xs])=>xs.map(x=>[x,y]));
function ramp(stops,n){
  const hex=c=>[1,3,5].map(i=>parseInt(c.substr(i,2),16)),out=[];
  const a=stops[0][0],b=stops[stops.length-1][0];
  for(let i=0;i<n;i++){const v=a+(b-a)*i/(n-1);let k=0;while(k<stops.length-2&&v>stops[k+1][0])k++;
    const t=(v-stops[k][0])/(stops[k+1][0]-stops[k][0]),A=hex(stops[k][1]),B=hex(stops[k+1][1]);
    out.push('rgb('+A.map((x,j)=>Math.round(x+(B[j]-x)*t)).join(',')+')');}
  return out;
}
const hitSize=h=>7.6+4.4*Math.log(h);
const grid=[],xAxis=[],yAxis=[],series=[];
function addAxes(g,x,y){grid.push(g);const i=grid.length-1;xAxis.push(Object.assign({gridIndex:i},x));yAxis.push(Object.assign({gridIndex:i},y));return i;}
function polygon(i,data,color,z){series.push({type:'custom',xAxisIndex:i,yAxisIndex:i,z,silent:true,clip:true,data,encode:{x:0,y:1},
  renderItem(p,api){if(p.dataIndex!==0)return;return{type:'polygon',shape:{points:data.map(d=>api.coord(d))},style:{fill:color}};}});}
function pts(i,data,color,z,size){series.push({type:'scatter',xAxisIndex:i,yAxisIndex:i,z,silent:true,data,symbolSize:size||4.6,itemStyle:{color,opacity:1},clip:true});}
function volcano(g,xr,xticks,pad,yl,d){
  const ls={color:'#222',width:1.5};
  const i=addAxes(Object.assign({show:true,backgroundColor:'#fff'},g),
   {type:'value',min:xr[0],max:xr[1],splitLine:{show:false},axisLine:{show:false,onZero:false},axisTick:{show:true,length:15,customValues:xticks,lineStyle:ls},
    axisLabel:{customValues:xticks,color:'#111',fontSize:35,fontFamily:FF,margin:23,padding:pad,showMinLabel:true,showMaxLabel:true}},
   {type:'value',min:-7.3,max:7.3,splitLine:{show:false},axisLine:{show:false,onZero:false},axisTick:{show:true,length:15,customValues:[-6,-4,-2,0,2,4,6],lineStyle:ls},
    axisLabel:{customValues:[-6,-4,-2,0,2,4,6],rotate:90,color:'#111',fontSize:35,fontFamily:FF,margin:yl,showMinLabel:true,showMaxLabel:true}});
  polygon(i,d.hull,'#0a0a08',3);pts(i,d.black,'#0a0a08',4);
  polygon(i,d.redD,'#e03420',5);pts(i,d.red,'#dd3527',6);
  polygon(i,d.greenD,'#78c400',5);pts(i,d.green,'#7abf0c',6);
  series.push({type:'line',xAxisIndex:i,yAxisIndex:i,z:8,silent:true,symbol:'none',data:[[xr[0],0],[xr[1],0]],
    lineStyle:{color:'#0a0a08',width:4,type:d.dashes,cap:'round',dashOffset:d.dash}});
}
volcano({left:121,top:122.4,width:799,height:716,borderColor:'#555',borderWidth:1.8},[-1.436,37.73],[0,10,20,30],[0,0,0,56],17,{hull:aBlackHull,black:aBlack.concat(expand(aBlackRows)),redD:aRedDense,red:aRed.concat(expand(aRedRows)),greenD:aGreenDense,green:aGreen.concat(expand(aGreenRows)),dashes:[13.3,21.4],dash:0});
volcano({left:1081.1,top:116,width:806.5,height:721.6,borderColor:'#222',borderWidth:1.5},[-.465,11.94],[0,2,4,6,8,10],[0,0,0,0],17,{hull:bBlackHull,black:bBlack.concat(expand(bBlackRows)),redD:bRedDense,red:bRed.concat(expand(bRedRows)),greenD:bGreenDense,green:bGreen.concat(expand(bGreenRows)),dashes:[13.3,21.6],dash:-2});

// Panel C: hidden unit axes
const vi=addAxes({left:57,top:1150,width:847,height:600},{type:'value',min:0,max:1,show:false},{type:'value',min:0,max:1,show:false});
series.push({type:'scatter',xAxisIndex:vi,yAxisIndex:vi,z:2,silent:true,symbolSize:544,data:[[.3217,.4738]],itemStyle:{color:'#87b383',opacity:1},clip:false});
series.push({type:'scatter',xAxisIndex:vi,yAxisIndex:vi,z:3,silent:true,symbolSize:543,data:[[.6793,.4738]],itemStyle:{color:'rgb(103,156,202)',opacity:.525},clip:false});
series.push({type:'scatter',xAxisIndex:vi,yAxisIndex:vi,z:4,silent:true,symbolSize:1,itemStyle:{color:'transparent'},clip:false,
  data:[[.2019,.478],[.5047,.478],[.7521,.478]].map((v,k)=>({value:v,label:{show:true,position:'inside',formatter:vennCounts[k],color:'#111',fontSize:23,fontWeight:'bold',fontFamily:FF}}))});
series.push({type:'scatter',xAxisIndex:vi,yAxisIndex:vi,z:4,silent:true,symbolSize:1,itemStyle:{color:'transparent'},clip:false,
  data:[[.1924,.9807],[.8004,.9807]].map((v,k)=>({value:v,label:{show:true,position:'inside',formatter:vennSets[k],color:k?'#b2cbe3':'#92bd8f',fontSize:27,fontFamily:FF}}))});

// Panel D: outer frame with x axis, inner rows
const GL='#e4e4e4';
const dOuter=addAxes({left:1425,top:1074.7,width:400,height:750.8,show:true,borderColor:GL,borderWidth:2},
 {type:'value',min:0,max:10,interval:2,axisLine:{show:false,onZero:false},axisTick:{show:false},splitLine:{show:true,lineStyle:{color:GL,width:2}},axisLabel:{color:'#555',fontSize:16.5,fontFamily:FF,margin:6}},
 {type:'value',min:0,max:1,show:false});
const dInner=addAxes({left:1425,top:1109.2,width:400,height:682.8},
 {type:'value',min:0,max:10,show:false},
 {type:'category',inverse:true,boundaryGap:false,data:pathways,axisLine:{show:false,onZero:false},axisTick:{show:false},splitLine:{show:true,interval:0,lineStyle:{color:GL,width:2}},axisLabel:{interval:0,color:'#4a4a4a',fontSize:19.8,fontFamily:FF,margin:7}});
series.push({type:'scatter',xAxisIndex:dInner,yAxisIndex:dInner,z:5,silent:true,data:pathways.map((n,k)=>[enrichment[k],n,pValues[k],listHits[k]]),symbolSize:v=>hitSize(v[3]),encode:{x:0,y:1},itemStyle:{opacity:1}});
const dSeriesIndex=series.length-1;
// colourbar axis (labels only)
const cb=addAxes({left:1845.4,top:1088.3,width:41.6,height:211.3,show:true,borderColor:'#e6dce0',borderWidth:2},
 {type:'value',min:0,max:1,show:false},
 {type:'value',min:.0011,max:.0848,position:'right',splitLine:{show:false},axisLine:{show:false},axisTick:{show:false},axisLabel:{customValues:pTicks,formatter:v=>v.toFixed(2),color:'#444',fontSize:17,fontFamily:FF,margin:6}});
series.push({type:'scatter',xAxisIndex:cb,yAxisIndex:cb,data:[],silent:true});
// ListHit legend
const lh=addAxes({left:1859,top:1384,width:23,height:158.8},
 {type:'value',min:0,max:1,show:false},
 {type:'category',inverse:true,boundaryGap:false,position:'right',data:hitLegend,axisLine:{show:false},axisTick:{show:false},splitLine:{show:false},axisLabel:{interval:0,color:'#333',fontSize:16,fontFamily:FF,margin:13}});
series.push({type:'scatter',xAxisIndex:lh,yAxisIndex:lh,silent:true,data:hitLegend.map(h=>[.5,h]),symbolSize:v=>hitSize(+v[1]),itemStyle:{color:'#111',opacity:1}});

const T=(text,x,y,font,fill,extra)=>Object.assign({type:'text',x,y,silent:true,z:50,style:{text,font:font+' '+FF,fill:fill||'#000',align:'center',verticalAlign:'middle'}},extra||{});
const L=(x1,y1,x2,y2)=>({type:'line',silent:true,z:50,shape:{x1,y1,x2,y2},style:{stroke:'#6a6a6a',lineWidth:1}});
const graphic=[
 L(967.5,0,967.5,1884),L(0,1011,1937,1011),L(1936,0,1936,1884),L(0,1882,1937,1882),
 T('A',40,44,'bold 54px'),T('B',1010,44,'bold 54px'),T('C',32,1052,'bold 54px'),T('D',1004,1054,'bold 54px'),
 T('Volcano',495.5,66,'bold 47.5px'),T('Volcano',1465,66,'bold 47.5px'),
 T('-log10(P.Value)',472,939,'37px','#111'),T('-log10(P.Value)',1467,943.5,'37px','#111'),
 T('logFC',36,470,'bold 30px','#111',{rotation:Math.PI/2}),T('logFC',996,463,'bold 30px','#111',{rotation:Math.PI/2}),
 T('Top 30 of  Enrichment',1627.5,1057,'19.4px','#444'),T('Enrichment_score',1626,1864.5,'19px','#444'),
 T('p-value',1877,1072.5,'19.5px','#444'),T('ListHit',1872,1335,'19.5px','#444')
];
const chart=echarts.init(document.getElementById('c'),null,{renderer:'canvas'});
chart.setOption({animation:false,backgroundColor:'#fff',textStyle:{fontFamily:FF},grid,xAxis,yAxis,series,graphic,
 visualMap:[{type:'continuous',seriesIndex:dSeriesIndex,dimension:2,min:.0011,max:.0848,left:1846.4,top:1089.3,itemWidth:39.6,itemHeight:209.3,padding:0,calculable:false,hoverLink:false,realtime:false,text:null,
   inRange:{color:ramp(pStops,60)}}]});
</script></body></html>
